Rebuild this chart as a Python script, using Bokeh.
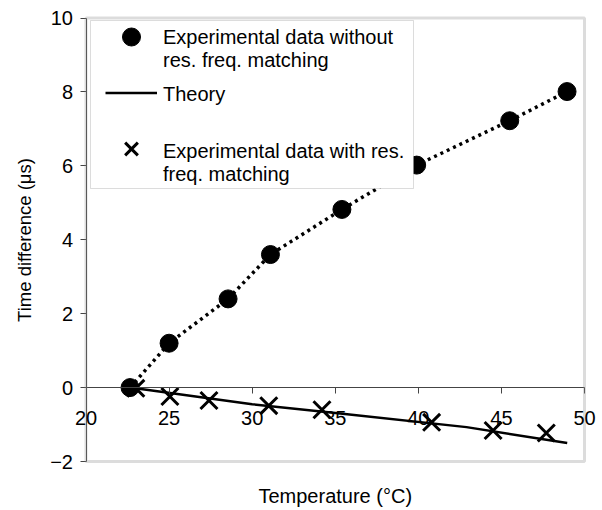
from bokeh.plotting import figure
from bokeh.models import (LinearAxis, FixedTicker, Legend, LegendItem, Range1d,
                          Label, BoxAnnotation)
from bokeh.embed import file_html
from bokeh.resources import INLINE

# Data
temp_no_match = [22.65, 25.0, 28.55, 31.1, 35.4, 39.9, 45.5, 48.95]
dt_no_match = [0.0, 1.2, 2.4, 3.6, 4.82, 6.02, 7.22, 8.01]

temp_match = [23.0, 25.05, 27.4, 31.0, 34.2, 40.8, 44.5, 47.7]
dt_match = [-0.02, -0.24, -0.35, -0.49, -0.6, -0.94, -1.16, -1.23]

theory_temp = [22.65, 30.0, 35.3, 42.9, 48.96]
theory_dt = [0.0, -0.45, -0.7, -1.07, -1.5]

x_min, x_max = 20, 50
y_min, y_max = -2, 10
x_ticks = [20, 25, 30, 35, 40, 45, 50]
x_tick_labels = ["20", "25", "30", "35", "40", "45", "50"]
y_ticks = [-2, 0, 2, 4, 6, 8, 10]

legend_labels = ["Experimental data without\nres. freq. matching",
                 "Theory\n ",
                 "Experimental data with res.\nfreq. matching"]

FONT = "Liberation Sans"
FS = "20px"

# The frame spans the whole canvas; the plot area (20..50, -2..10) sits at
# canvas pixels x 85.5..584, y 17.5..461 as in the reference.
W, H = 602, 510
L_PX, R_PX, T_PX, B_PX = 85.5, 584.0, 17.5, 461.0
sx = (R_PX - L_PX) / (x_max - x_min)
sy = (B_PX - T_PX) / (y_max - y_min)
x_range = Range1d(x_min - L_PX / sx, x_max + (W - R_PX) / sx)
y_range = Range1d(y_min - (H - B_PX) / sy, y_max + T_PX / sy)

p = figure(width=W, height=H, output_backend="svg", toolbar_location=None,
           x_range=x_range, y_range=y_range,
           x_axis_location=None, y_axis_location=None,
           min_border=0)
p.grid.visible = False
p.outline_line_color = None
p.background_fill_color = "white"
p.border_fill_color = "white"

# plot-area border
p.add_layout(BoxAnnotation(left=x_min, right=x_max, bottom=y_min, top=y_max,
                           fill_alpha=0, line_color="#8a8a8a", line_width=3))

# y axis pinned at x = 20
ya = LinearAxis(fixed_location=x_min, ticker=FixedTicker(ticks=y_ticks), bounds=(y_min, y_max))
ya.minor_tick_line_color = None
ya.major_tick_out = 6
ya.major_tick_in = 0
ya.axis_line_color = "#444444"
ya.major_tick_line_color = "#444444"
ya.major_label_text_font = FONT
ya.major_label_text_font_size = FS
ya.major_label_text_color = "black"
ya.major_label_standoff = 7
ya.axis_label = "Time difference (\u03bcs)"
ya.axis_label_text_font = FONT
ya.axis_label_text_font_size = "18.5px"
ya.axis_label_text_font_style = "normal"
ya.axis_label_text_color = "black"
ya.axis_label_standoff = 13
p.add_layout(ya, "left")

# x axis pinned at y = 0
xa = LinearAxis(fixed_location=0, ticker=FixedTicker(ticks=x_ticks), bounds=(x_min, x_max))
xa.minor_tick_line_color = None
xa.major_tick_out = 6
xa.major_tick_in = 0
xa.axis_line_color = "#444444"
xa.major_tick_line_color = "#444444"
xa.major_label_overrides = {t: "" for t in x_ticks}
p.add_layout(xa, "below")

for t, lbl in zip(x_ticks, x_tick_labels):
    p.add_layout(Label(x=t, y=0, text=lbl, y_offset=-23, text_align="center",
                       text_baseline="top", text_font=FONT, text_font_size=FS,
                       text_color="black"))

p.add_layout(Label(x=(x_min + x_max) / 2, y=y_min, y_offset=-34,
                   text="Temperature (\u00b0C)", text_align="center", text_baseline="middle",
                   text_font=FONT, text_font_size=FS, text_color="black"))

# series
r_theory = p.line(theory_temp, theory_dt, line_color="black", line_width=2.5)
r_cross = p.scatter(temp_match, dt_match, marker="x", size=24, line_color="black", line_width=3)
p.line(temp_no_match, dt_no_match, line_color="black", line_width=3.5, line_dash="3 4")
r_circ = p.scatter(temp_no_match, dt_no_match, marker="circle", size=18,
                   fill_color="black", line_color="black")
r_blank = p.line([], [], line_alpha=0)

# legend frame
p.add_layout(BoxAnnotation(left=90, right=413, top=20, bottom=188,
                           left_units="canvas", right_units="canvas",
                           top_units="canvas", bottom_units="canvas",
                           fill_color="white", fill_alpha=1,
                           line_color="#8a8a8a", line_width=1))

# legend symbols (aligned to the first text line of each entry)
legend_glyphs = Legend(items=[
    LegendItem(label=" ", renderers=[r_circ]),
    LegendItem(label=" ", renderers=[r_theory]),
    LegendItem(label=" ", renderers=[r_cross]),
], location=(105, 339), margin=0, padding=0, spacing=11,
    glyph_width=52, glyph_height=45, label_standoff=6,
    label_text_font=FONT, label_text_font_size=FS,
    border_line_color=None, background_fill_alpha=0)
p.add_layout(legend_glyphs, "center")

# legend texts
legend_text = Legend(items=[
    LegendItem(label=legend_labels[0], renderers=[r_blank]),
    LegendItem(label=legend_labels[1], renderers=[r_blank]),
    LegendItem(label=legend_labels[2], renderers=[r_blank]),
], location=(105, 324), margin=0, padding=0, spacing=11,
    glyph_width=52, glyph_height=10, label_standoff=6,
    label_text_font=FONT, label_text_font_size=FS, label_text_color="black",
    border_line_color=None, background_fill_alpha=0)
p.add_layout(legend_text, "center")

open("out.html", "w").write(file_html(p, INLINE))
